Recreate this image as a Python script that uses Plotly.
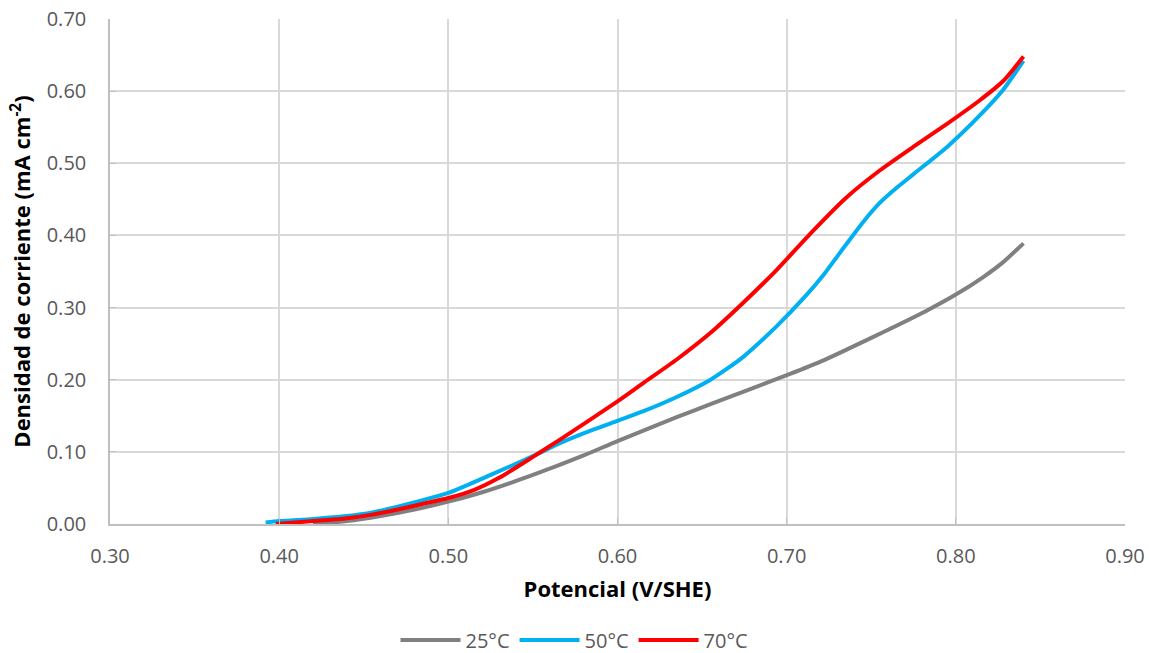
import plotly.graph_objects as go

# 25°C
x25 = [0.420, 0.44, 0.46, 0.48, 0.50, 0.52, 0.55, 0.58, 0.60, 0.635, 0.655, 0.675, 0.702, 0.72, 0.75, 0.783, 0.80, 0.816, 0.828, 0.84]
y25 = [0.000, 0.004, 0.011, 0.020, 0.031, 0.044, 0.068, 0.095, 0.115, 0.148, 0.166, 0.184, 0.208, 0.225, 0.258, 0.296, 0.318, 0.342, 0.363, 0.389]

# 50°C
x50 = [0.392, 0.40, 0.42, 0.44, 0.455, 0.47, 0.485, 0.50, 0.525, 0.55, 0.566, 0.586, 0.60, 0.615, 0.635, 0.655, 0.674, 0.694, 0.710,
       0.722, 0.735, 0.745, 0.755, 0.765, 0.775, 0.795, 0.814, 0.828, 0.840]
y50 = [0.002, 0.004, 0.007, 0.011, 0.016, 0.024, 0.033, 0.043, 0.068, 0.094, 0.112, 0.131, 0.143, 0.156, 0.176, 0.200, 0.231, 0.274, 0.313,
       0.346, 0.387, 0.418, 0.445, 0.466, 0.485, 0.523, 0.566, 0.602, 0.642]

# 70°C
x70 = [0.398, 0.42, 0.44, 0.455, 0.47, 0.485, 0.50, 0.515, 0.53, 0.55, 0.566, 0.60, 0.615, 0.635, 0.655, 0.674, 0.694, 0.715,
       0.735, 0.755, 0.775, 0.795, 0.814, 0.828, 0.840]
y70 = [0.000, 0.004, 0.008, 0.013, 0.020, 0.028, 0.036, 0.047, 0.064, 0.093, 0.117, 0.170, 0.195, 0.228, 0.265, 0.306, 0.352, 0.405,
       0.452, 0.490, 0.523, 0.555, 0.587, 0.614, 0.648]

series = [
    ("25°C", x25, y25, "#808080"),
    ("50°C", x50, y50, "#00b0f0"),
    ("70°C", x70, y70, "#ff0000"),
]

fig = go.Figure()
for name, xs, ys, col in series:
    fig.add_trace(go.Scatter(
        x=xs, y=ys, name=name, mode="lines",
        line=dict(color=col, width=4, shape="spline", smoothing=0.6),
    ))

font_family = "Open Sans, Liberation Sans, sans-serif"
fig.update_layout(
    width=1149, height=653,
    margin=dict(l=110, r=24, t=19, b=129, autoexpand=False),
    paper_bgcolor="white", plot_bgcolor="white",
    font=dict(family=font_family, size=20, color="#595959"),
    showlegend=True,
    legend=dict(orientation="h", x=0.5, xanchor="center", xref="container",
                y=0.02, yanchor="middle", yref="container",
                font=dict(size=20, color="#595959"), itemwidth=60),
    xaxis=dict(
        range=[0.30, 0.90], dtick=0.1, tick0=0.3, tickformat=".2f",
        showgrid=True, gridcolor="#d9d9d9", gridwidth=1.5,
        showline=True, linecolor="#bfbfbf", linewidth=1.5,
        ticks="inside", ticklen=6, tickcolor="#bfbfbf",
        zeroline=False, automargin=False, ticklabelstandoff=13,
        tickfont=dict(size=20, color="#595959"),
        title=dict(text="<b>Potencial (V/SHE)</b>", font=dict(size=22, color="#000000"), standoff=14),
    ),
    yaxis=dict(
        range=[0, 0.70], dtick=0.1, tick0=0, tickformat=".2f",
        showgrid=True, gridcolor="#d9d9d9", gridwidth=1.5,
        showline=True, linecolor="#bfbfbf", linewidth=1.5,
        ticks="inside", ticklen=6, tickcolor="#bfbfbf",
        zeroline=False, automargin=False, ticklabelstandoff=18,
        tickfont=dict(size=20, color="#595959"),
        title=dict(text="<b>Densidad de corriente (mA cm<sup>-2</sup>)</b>", font=dict(size=22, color="#000000"), standoff=10),
    ),
)

fig.write_html("out.html")
